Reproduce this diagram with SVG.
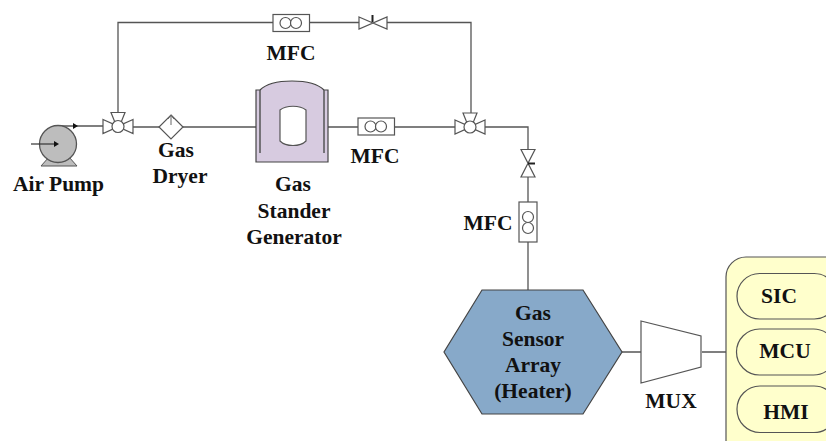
<svg xmlns="http://www.w3.org/2000/svg" width="826" height="441" viewBox="0 0 826 441">
<defs>
<style>
text{font-family:"Liberation Serif","Times New Roman",serif;font-weight:bold;font-size:21.5px;fill:#111;text-anchor:middle}
.l{fill:none;stroke:#555;stroke-width:1.3}
.s{fill:#fff;stroke:#555;stroke-width:1.2}
.y{fill:#ffffcc;stroke:#555;stroke-width:1.2}
</style>
<g id="v3">
<path class="s" d="M-15,-7 L-4,-2 L-4,2 L-15,7 Z M15,-7 L4,-2 L4,2 L15,7 Z M-7,-14 L7,-14 L3,-4 L-3,-4 Z"/>
<circle class="s" cx="0" cy="0" r="6"/>
</g>
</defs>
<rect width="826" height="441" fill="#fff"/>
<g id="connectors">
<path class="l" d="M273,22.500 H118 V113"/>
<path class="l" d="M310,22.500 H359 M387,22.500 H471 V113"/>
<path class="l" d="M58,126 H103"/>
<path class="l" d="M133,127 H160 M183,127 H257"/>
<path class="l" d="M327,127 H358 M395,127 H456"/>
<path class="l" d="M485,127 H528 V150 M528,177 V202 M528,242 V291"/>
<path class="l" d="M622,352 H641 M702,352 H726"/>
<path d="M73,123 L78,126 L73,129 Z" fill="#111"/>
</g>
<g id="air-pump">
<path d="M41,166 L49,157 L69,157 L77,166 Z" fill="#bdbdbd" stroke="#555" stroke-width="1"/>
<circle cx="58" cy="144" r="18.500" fill="#bdbdbd" stroke="#555" stroke-width="1.300"/>
<path d="M31,144 H55" stroke="#333" stroke-width="1.200" fill="none"/>
<path d="M54,141 L59,144 L54,147 Z" fill="#111"/>
<text x="58.500" y="191">Air Pump</text>
</g>
<g id="valve-left"><use href="#v3" x="118" y="126.500"/></g>
<g id="gas-dryer">
<path class="s" d="M171,115 L183,127 L171,139 L159,127 Z"/>
<path d="M171,115 V125 M168,119 L171,115 L174,119" stroke="#666" stroke-width="1" fill="none"/>
<text x="176" y="157">Gas</text>
<text x="180" y="183">Dryer</text>
</g>
<g id="generator">
<path d="M256,162 V90 L260,90 C272,78 312,78 324,90 L328,90 V162 Z" fill="#d7cbe0" stroke="#444" stroke-width="1.200"/>
<path d="M260,90 V153 M324,90 V153" stroke="#555" stroke-width="1.500" fill="none"/>
<path d="M280,110 C286,105 300,105 306,110 V141 C300,147 286,147 280,141 Z" fill="#fff" stroke="#555" stroke-width="1.200"/>
<text x="293" y="191">Gas</text>
<text x="294" y="218">Stander</text>
<text x="294" y="244">Generator</text>
</g>
<g id="mfc-top">
<rect class="s" x="273" y="14.500" width="36.500" height="17"/>
<circle class="s" cx="285.500" cy="23" r="5.500" fill="none"/>
<circle class="s" cx="296" cy="23" r="5.500" fill="none"/>
<text x="291" y="60">MFC</text>
</g>
<g id="valve-top">
<path class="s" d="M359,17 L387,29 V17 L359,29 Z"/>
<path d="M372.500,15 V22" stroke="#222" stroke-width="2" fill="none"/>
</g>
<g id="mfc-mid">
<rect class="s" x="358" y="118" width="36.500" height="17"/>
<circle class="s" cx="370.500" cy="126.500" r="5.500" fill="none"/>
<circle class="s" cx="381" cy="126.500" r="5.500" fill="none"/>
<text x="375" y="163">MFC</text>
</g>
<g id="valve-right"><use href="#v3" x="470" y="127"/></g>
<g id="valve-down">
<path class="s" d="M521,149.500 L535,149.500 L521,177 L535,177 Z"/>
<path d="M528,163.500 H535" stroke="#222" stroke-width="2" fill="none"/>
</g>
<g id="mfc-down">
<rect class="s" x="519" y="202" width="18" height="40"/>
<circle class="s" cx="528" cy="217" r="5.500" fill="none"/>
<circle class="s" cx="528" cy="228" r="5.500" fill="none"/>
<text x="488" y="230">MFC</text>
</g>
<g id="sensor">
<path d="M482,290 L583,290 L622,352 L583,414 L482,414 L444,352 Z" fill="#87a9c9" stroke="#444" stroke-width="1.200"/>
<text x="533" y="320">Gas</text>
<text x="533" y="346">Sensor</text>
<text x="533" y="372">Array</text>
<text x="533" y="398">(Heater)</text>
</g>
<g id="mux">
<path class="s" d="M641,321 L701,336 V367 L641,383 Z"/>
<text x="671" y="408">MUX</text>
</g>
<g id="controller">
<rect class="y" x="726" y="257" width="130" height="210" rx="20"/>
<g id="sic"><rect class="y" x="737" y="273.500" width="100" height="45.500" rx="22.700"/><text x="779" y="303">SIC</text></g>
<g id="mcu"><rect class="y" x="736.500" y="329" width="100" height="46" rx="23"/><text x="785" y="358">MCU</text></g>
<g id="hmi"><rect class="y" x="737" y="386" width="100" height="46.500" rx="23"/><text x="786" y="418.500">HMI</text></g>
</g>
</svg>
